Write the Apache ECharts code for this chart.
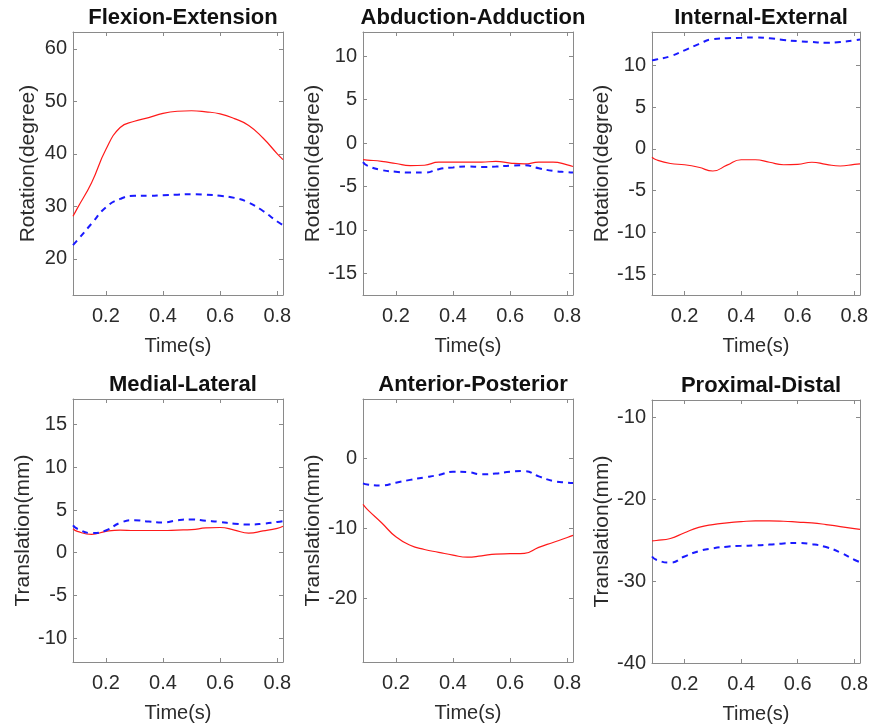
<!DOCTYPE html>
<html>
<head>
<meta charset="utf-8">
<script src="https://cdn.jsdelivr.net/npm/echarts@6/dist/echarts.min.js"></script>
<style>
  html, body { margin: 0; padding: 0; background: #fff; }
  #main { width: 872px; height: 725px; }
</style>
</head>
<body>
<div id="main"></div>
<script>
// time samples (s)
var t = [0.085, 0.1, 0.15, 0.2, 0.25, 0.3, 0.35, 0.4, 0.45, 0.5, 0.55, 0.6, 0.65, 0.7, 0.75, 0.8, 0.82];

// rotations (degree)
var feRed  = [28.1, 29.6, 34.5, 40.8, 45.0, 46.2, 46.9, 47.7, 48.1, 48.2, 48.0, 47.6, 46.7, 45.4, 43.0, 40.0, 38.9];
var feBlue = [22.6, 23.5, 26.7, 29.8, 31.4, 32.0, 32.0, 32.1, 32.2, 32.3, 32.2, 32.0, 31.6, 30.7, 29.1, 27.1, 26.4];
var aaRed  = [-1.9, -1.95, -2.1, -2.35, -2.6, -2.55, -2.2, -2.2, -2.2, -2.2, -2.1, -2.3, -2.4, -2.2, -2.2, -2.5, -2.7];
var aaBlue = [-2.2, -2.6, -3.1, -3.3, -3.4, -3.4, -3.0, -2.8, -2.7, -2.75, -2.7, -2.6, -2.55, -2.9, -3.2, -3.35, -3.4];
var ieRed  = [-1.0, -1.3, -1.75, -1.9, -2.2, -2.65, -1.95, -1.3, -1.3, -1.6, -1.9, -1.85, -1.6, -1.85, -2.05, -1.85, -1.8];
var ieBlue = [10.6, 10.7, 11.1, 11.8, 12.55, 13.15, 13.25, 13.3, 13.35, 13.25, 13.05, 12.9, 12.8, 12.7, 12.8, 13.0, 13.1];

// translations (mm)
var mlRed  = [2.8, 2.5, 2.15, 2.5, 2.65, 2.6, 2.6, 2.6, 2.65, 2.7, 2.9, 2.95, 2.65, 2.3, 2.55, 2.85, 3.1];
var mlBlue = [3.2, 2.8, 2.3, 2.6, 3.5, 3.8, 3.65, 3.55, 3.8, 3.9, 3.75, 3.6, 3.4, 3.3, 3.4, 3.6, 3.7];
var apRed  = [-6.6, -7.3, -9.2, -11.2, -12.4, -13.0, -13.4, -13.8, -14.1, -13.9, -13.65, -13.6, -13.55, -12.7, -12.0, -11.3, -11.0];
var apBlue = [-3.6, -3.75, -3.9, -3.5, -3.1, -2.75, -2.4, -1.95, -2.0, -2.3, -2.2, -1.95, -1.85, -2.6, -3.25, -3.5, -3.55];
var pdRed  = [-25.1, -25.05, -24.8, -24.1, -23.45, -23.1, -22.9, -22.75, -22.65, -22.65, -22.7, -22.8, -22.9, -23.1, -23.35, -23.6, -23.7];
var pdBlue = [-27.0, -27.4, -27.75, -27.0, -26.35, -26.0, -25.8, -25.7, -25.65, -25.55, -25.4, -25.35, -25.5, -25.85, -26.5, -27.4, -27.7];

// tick labels
var xTicks = [0.2, 0.4, 0.6, 0.8];
var feTicks = [20, 30, 40, 50, 60];
var aaTicks = [-15, -10, -5, 0, 5, 10];
var ieTicks = [-15, -10, -5, 0, 5, 10];
var mlTicks = [-10, -5, 0, 5, 10, 15];
var apTicks = [-20, -10, 0];
var pdTicks = [-40, -30, -20, -10];

var titles = ['Flexion-Extension', 'Abduction-Adduction', 'Internal-External',
              'Medial-Lateral', 'Anterior-Posterior', 'Proximal-Distal'];
var yNames = ['Rotation(degree)', 'Rotation(degree)', 'Rotation(degree)',
              'Translation(mm)', 'Translation(mm)', 'Translation(mm)'];

var panels = [
    { red: feRed, blue: feBlue, ticks: feTicks, min: 13.1, max: 63.2 },
    { red: aaRed, blue: aaBlue, ticks: aaTicks, min: -17.5, max: 12.8 },
    { red: ieRed, blue: ieBlue, ticks: ieTicks, min: -17.5, max: 14 },
    { red: mlRed, blue: mlBlue, ticks: mlTicks, min: -12.8, max: 18 },
    { red: apRed, blue: apBlue, ticks: apTicks, min: -29, max: 8.4 },
    { red: pdRed, blue: pdBlue, ticks: pdTicks, min: -40, max: -7.9 }
];

var grids = [
    { left: 73, top: 32, width: 210, height: 263 },
    { left: 363, top: 32, width: 210, height: 263 },
    { left: 652, top: 32, width: 208, height: 263 },
    { left: 73, top: 399, width: 210, height: 263 },
    { left: 363, top: 399, width: 210, height: 263 },
    { left: 652, top: 400, width: 208, height: 263 }
];

var fontFam = 'Liberation Sans, Arial, sans-serif';
var boxColor = '#8a8a8a';
var textColor = '#2b2b2b';

var option = {
    backgroundColor: '#fff',
    animation: false,
    title: [],
    grid: [],
    xAxis: [],
    yAxis: [],
    series: []
};

function pairs(vals) {
    return t.map(function (x, i) { return [x, vals[i]]; });
}

panels.forEach(function (p, i) {
    var g = grids[i];
    option.grid.push({ left: g.left, top: g.top, width: g.width, height: g.height, containLabel: false });
    option.title.push({
        text: titles[i],
        left: g.left + g.width / 2,
        top: g.top - 30,
        textAlign: 'center',
        textStyle: { fontFamily: fontFam, fontSize: 22, fontWeight: 'bold', color: '#111' }
    });
    var lineStyle = { color: boxColor, width: 1 };
    // bottom x axis
    option.xAxis.push({
        type: 'value', gridIndex: i, position: 'bottom',
        min: 0.085, max: 0.82,
        name: 'Time(s)', nameLocation: 'middle', nameGap: 41,
        nameTextStyle: { fontFamily: fontFam, fontSize: 20, color: textColor },
        axisLine: { show: true, onZero: false, lineStyle: lineStyle },
        axisTick: { show: true, inside: true, length: 4, customValues: xTicks, lineStyle: lineStyle },
        axisLabel: { customValues: xTicks, margin: 11, fontFamily: fontFam, fontSize: 20, color: textColor,
                     formatter: function (v) { return v.toFixed(1); } },
        splitLine: { show: false }
    });
    // top x axis (box)
    option.xAxis.push({
        type: 'value', gridIndex: i, position: 'top',
        min: 0.085, max: 0.82,
        axisLine: { show: true, onZero: false, lineStyle: lineStyle },
        axisTick: { show: true, inside: true, length: 4, customValues: xTicks, lineStyle: lineStyle },
        axisLabel: { show: false },
        splitLine: { show: false }
    });
    // left y axis
    option.yAxis.push({
        type: 'value', gridIndex: i, position: 'left',
        min: p.min, max: p.max,
        name: yNames[i], nameLocation: 'middle', nameGap: 34, nameRotate: 90,
        nameTextStyle: { fontFamily: fontFam, fontSize: 21, color: textColor },
        axisLine: { show: true, onZero: false, lineStyle: lineStyle },
        axisTick: { show: true, inside: true, length: 4, customValues: p.ticks, lineStyle: lineStyle },
        axisLabel: { customValues: p.ticks, margin: 6, fontFamily: fontFam, fontSize: 20, color: textColor },
        splitLine: { show: false }
    });
    // right y axis (box)
    option.yAxis.push({
        type: 'value', gridIndex: i, position: 'right',
        min: p.min, max: p.max,
        axisLine: { show: true, onZero: false, lineStyle: lineStyle },
        axisTick: { show: true, inside: true, length: 4, customValues: p.ticks, lineStyle: lineStyle },
        axisLabel: { show: false },
        splitLine: { show: false }
    });
    option.series.push({
        type: 'line', xAxisIndex: 2 * i, yAxisIndex: 2 * i,
        data: pairs(p.red), smooth: true, symbol: 'none',
        lineStyle: { color: '#ff1a1a', width: 1.2 }
    });
    option.series.push({
        type: 'line', xAxisIndex: 2 * i, yAxisIndex: 2 * i,
        data: pairs(p.blue), smooth: true, symbol: 'none',
        lineStyle: { color: '#1a1aff', width: 2, type: [6, 5] }
    });
});

var chart = echarts.init(document.getElementById('main'), null, { renderer: 'canvas' });
chart.setOption(option);
</script>
</body>
</html>
